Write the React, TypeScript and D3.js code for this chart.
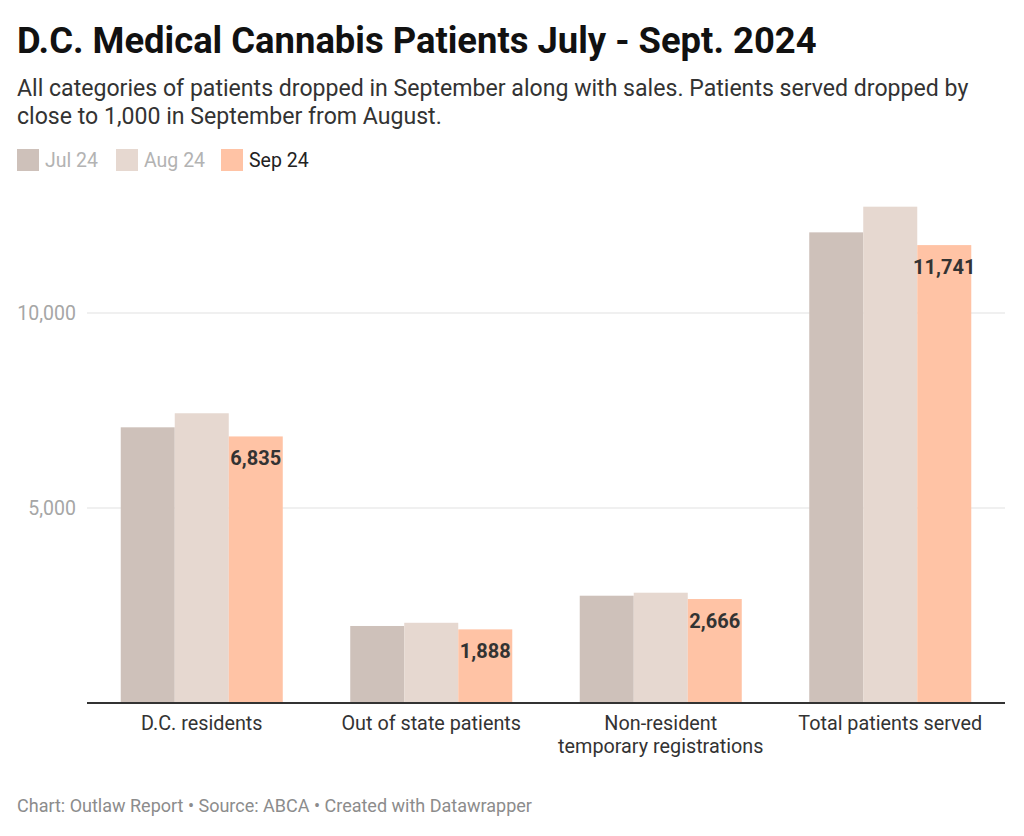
import { useEffect, useRef } from 'react';
import * as d3 from 'd3';

const categories = ['D.C. residents', 'Out of state patients', 'Non-resident\ntemporary registrations', 'Total patients served'];
const seriesNames = ['Jul 24', 'Aug 24', 'Sep 24'];
const jul24 = [7069, 1975, 2751, 12068];
const aug24 = [7429, 2057, 2828, 12726];
const sep24 = [6835, 1888, 2666, 11741];
const yTicks = [5000, 10000];

const colors = ['#cec1ba', '#e6d8d0', '#ffc3a5'];
const legendText = ['#b3b3b3', '#b3b3b3', '#222'];

export default function App() {
  const ref = useRef<SVGSVGElement | null>(null);

  useEffect(() => {
    document.body.style.margin = '0';
    if (!ref.current) return;
    const svg = d3.select(ref.current);
    svg.selectAll('*').remove();

    const W = 1024;
    const H = 836;
    const left = 87;
    const right = 1005;
    const base = 703;
    const font = 'Roboto, sans-serif';

    svg.attr('width', W).attr('height', H).style('font-family', font).style('background', '#fff');

    svg.append('text').attr('x', 17).attr('y', 53)
      .attr('font-size', 36.4).attr('font-weight', 700).attr('fill', '#111')
      .text('D.C. Medical Cannabis Patients July - Sept. 2024');

    const sub = ['All categories of patients dropped in September along with sales. Patients served dropped by', 'close to 1,000 in September from August.'];
    sub.forEach((s, i) => {
      svg.append('text').attr('x', 17).attr('y', 96 + i * 28)
        .attr('font-size', 23.1).attr('fill', '#333').text(s);
    });

    // legend
    const legX = [17, 116, 221];
    seriesNames.forEach((n, i) => {
      svg.append('rect').attr('x', legX[i]).attr('y', 149).attr('width', 22).attr('height', 22).attr('fill', colors[i]);
      svg.append('text').attr('x', legX[i] + 28).attr('y', 167).attr('font-size', 19.5)
        .attr('fill', legendText[i]).text(n);
    });

    const x0 = d3.scaleBand<string>().domain(categories).range([left, right])
      .paddingInner(0.294).paddingOuter(0.147);
    const x1 = d3.scaleBand<string>().domain(seriesNames).range([0, x0.bandwidth()]);
    const y = d3.scaleLinear().domain([0, 10000]).range([base, 313]);

    // grid
    const g = svg.append('g');
    yTicks.forEach(t => {
      g.append('line').attr('x1', left).attr('x2', right).attr('y1', y(t)).attr('y2', y(t))
        .attr('stroke', '#e1e1e1').attr('stroke-width', 1);
      g.append('text').attr('x', 76).attr('y', y(t)).attr('dy', '0.35em').attr('text-anchor', 'end')
        .attr('font-size', 19.5).attr('fill', '#a6a6a6').text(d3.format(',')(t));
    });

    const series = [jul24, aug24, sep24];
    series.forEach((vals, si) => {
      g.selectAll(`rect.s${si}`).data(vals).enter().append('rect')
        .attr('x', (_, i) => x0(categories[i])! + x1(seriesNames[si])!)
        .attr('y', d => y(d))
        .attr('width', x1.bandwidth())
        .attr('height', d => base - y(d))
        .attr('fill', colors[si]);
    });

    // value labels on Sep 24
    g.selectAll('text.val').data(sep24).enter().append('text')
      .attr('x', (_, i) => x0(categories[i])! + x1('Sep 24')! + x1.bandwidth() / 2)
      .attr('y', d => y(d) + 29)
      .attr('text-anchor', 'middle').attr('font-size', 20).attr('font-weight', 700)
      .attr('fill', '#333').text(d => d3.format(',')(d));

    g.append('line').attr('x1', left).attr('x2', right).attr('y1', base).attr('y2', base)
      .attr('stroke', '#333').attr('stroke-width', 2);

    categories.forEach(c => {
      c.split('\n').forEach((line, li) => {
        g.append('text').attr('x', x0(c)! + x0.bandwidth() / 2).attr('y', 730 + li * 23)
          .attr('text-anchor', 'middle').attr('font-size', 19.8).attr('fill', '#333').text(line);
      });
    });

    svg.append('text').attr('x', 17).attr('y', 812).attr('font-size', 18).attr('fill', '#8c8c8c')
      .text('Chart: Outlaw Report • Source: ABCA • Created with Datawrapper');
  }, []);

  return <svg ref={ref}></svg>;
}
